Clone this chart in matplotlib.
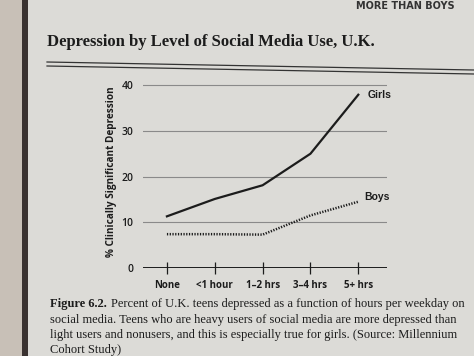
import matplotlib
matplotlib.use("Agg")
import matplotlib.pyplot as plt
from matplotlib.patches import Rectangle
from matplotlib.lines import Line2D
import numpy as np

categories = ["None", "<1 hour", "1\u20132 hrs", "3\u20134 hrs", "5+ hrs"]
girls = [11.3, 15.1, 18.1, 25.0, 37.9]
boys = [7.4, 7.4, 7.3, 11.5, 14.5]
yticks = [0, 10, 20, 30, 40]

title = "Depression by Level of Social Media Use, U.K."
caption_lines = [
    "social media. Teens who are heavy users of social media are more depressed than",
    "light users and nonusers, and this is especially true for girls. (Source: Millennium",
    "Cohort Study)",
]

page = "#dcdbd7"
ink = "#1c1c1c"

fig = plt.figure(figsize=(4.74, 3.56), dpi=100, facecolor=page)

# book edge on the left
fig.add_artist(Rectangle((0, 0), 22 / 474, 1, transform=fig.transFigure,
                         facecolor="#c8c0b7", edgecolor="none", zorder=0))
fig.add_artist(Rectangle((22 / 474, 0), 6 / 474, 1, transform=fig.transFigure,
                         facecolor="#3a3230", edgecolor="none", zorder=0))

# running head
fig.text(0.96, 1 - 1 / 356, "MORE THAN BOYS", ha="right", va="top",
         family="DejaVu Sans", weight="bold", fontsize=7, color="#333333")

fig.text(47 / 474, 1 - 42 / 356, title, ha="left", va="center",
         family="Liberation Serif", weight="bold", fontsize=12, color=ink)

# double rule under the title
for dy in (0, 4):
    fig.add_artist(Line2D([47 / 474, 1.0], [1 - (62 + dy) / 356, 1 - (70 + dy) / 356],
                          transform=fig.transFigure, color="#333333", lw=0.9))

ax = fig.add_axes([143 / 474, 88 / 356, 244 / 474, 192 / 356])
ax.set_facecolor("none")
x = np.arange(len(categories))

for y in yticks[1:]:
    ax.axhline(y, color="#8a8a8a", lw=0.8, zorder=1)
ax.axhline(0, color=ink, lw=1.4, zorder=2)

ax.plot(x, girls, color=ink, lw=1.6, zorder=3)
ax.plot(x, boys, color=ink, lw=1.8, linestyle=(0, (0.5, 0.6)), zorder=3)

ax.text(x[-1] + 0.2, girls[-1], "Girls", ha="left", va="center",
        family="Liberation Sans", weight="bold", fontsize=7.5, color=ink)
ax.text(x[-1] + 0.12, boys[-1] + 1.0, "Boys", ha="left", va="center",
        family="Liberation Sans", weight="bold", fontsize=7.5, color=ink)

ax.set_xlim(-0.5, 4.6)
ax.set_ylim(0, 42)
ax.set_xticks(x)
ax.set_xticklabels(categories, family="Open Sans", weight="bold", fontsize=7, color=ink)
ax.set_yticks(yticks)
ax.set_yticklabels([str(v) for v in yticks], family="Open Sans", weight="semibold",
                   fontsize=7.5, color=ink)
ax.tick_params(axis="x", direction="inout", length=8, width=0.9, color=ink, pad=5)
ax.tick_params(axis="y", length=0, pad=7)
for s in ax.spines.values():
    s.set_visible(False)
ax.set_ylabel("% Clinically Significant Depression", family="Open Sans",
              weight="bold", fontsize=7.2, color=ink, labelpad=3)

# caption
fs = 9.0
cy = 1 - 304 / 356
lead = fig.text(50 / 474, cy, "Figure 6.2.", ha="left", va="center", family="Liberation Serif",
                weight="bold", fontsize=fs, color=ink)
ax.annotate("Percent of U.K. teens depressed as a function of hours per weekday on",
            xy=(1, 0.5), xycoords=lead, xytext=(3, 0), textcoords="offset points",
            ha="left", va="center", family="Liberation Serif", fontsize=fs, color=ink,
            annotation_clip=False)
for i, line in enumerate(caption_lines):
    fig.text(50 / 474, cy - (i + 1) * 15.5 / 356, line, ha="left", va="center",
             family="Liberation Serif", fontsize=fs, color=ink)

fig.savefig("out.png", dpi=100, facecolor=page)
